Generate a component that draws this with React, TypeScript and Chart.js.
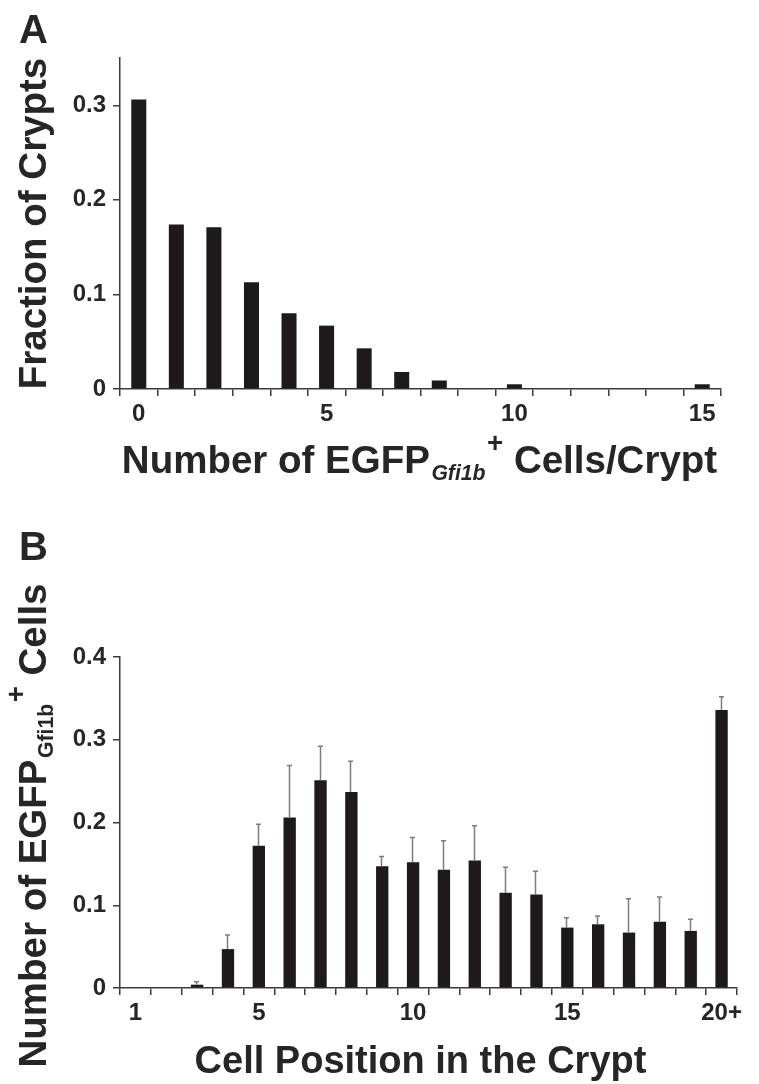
import React, { useEffect, useRef } from 'react';
import { Chart, registerables } from 'chart.js';

Chart.register(...registerables);

// ---------- Panel A data ----------
const categoriesA = ['0', '1', '2', '3', '4', '5', '6', '7', '8', '9', '10', '11', '12', '13', '14', '15'];
const fractionA = [0.306, 0.174, 0.171, 0.113, 0.08, 0.067, 0.043, 0.018, 0.009, 0, 0.005, 0, 0, 0, 0, 0.005];
const shownTicksA = ['0', '5', '10', '15'];
const yMaxA = 0.35;

// ---------- Panel B data ----------
const categoriesB = ['1', '2', '3', '4', '5', '6', '7', '8', '9', '10', '11', '12', '13', '14', '15', '16', '17', '18', '19', '20+'];
const meanB = [0, 0, 0.004, 0.047, 0.172, 0.206, 0.251, 0.237, 0.147, 0.152, 0.143, 0.154, 0.115, 0.113, 0.073, 0.077, 0.067, 0.08, 0.069, 0.336];
const errB = [0, 0, 0.0035, 0.017, 0.026, 0.063, 0.041, 0.037, 0.012, 0.03, 0.035, 0.042, 0.031, 0.028, 0.012, 0.01, 0.041, 0.03, 0.014, 0.016];
const shownTicksB = ['1', '5', '10', '15', '20+'];
const yMaxB = 0.4;

// ---------- Text ----------
type Seg = { text: string; kind: 'base' | 'sub' | 'sup'; italic?: boolean };
const xTitleA: Seg[] = [
  { text: 'Number of EGFP', kind: 'base' },
  { text: 'Gfi1b', kind: 'sub', italic: true },
  { text: '+', kind: 'sup' },
  { text: ' Cells/Crypt', kind: 'base' },
];
const yTitleA: Seg[] = [{ text: 'Fraction of Crypts', kind: 'base' }];
const xTitleB: Seg[] = [{ text: 'Cell Position in the Crypt', kind: 'base' }];
const yTitleB: Seg[] = [
  { text: 'Number of EGFP', kind: 'base' },
  { text: 'Gfi1b', kind: 'sub' },
  { text: '+', kind: 'sup' },
  { text: ' Cells', kind: 'base' },
];
const panelLetters = ['A', 'B'];

const FONT = '"Liberation Sans", Arial, Helvetica, sans-serif';
const BAR = '#1e1a1b';
const AXIS = '#3a3a3a';
const TEXT = '#262626';
const ERR = '#7d7d7d';
const TITLE_SIZE = 38.5;
const TICK_SIZE = 24;

function fontFor(seg: Seg, size: number) {
  const s = seg.kind === 'base' ? size : seg.kind === 'sub' ? size * 0.55 : size * 0.72;
  return `${seg.italic ? 'italic ' : ''}bold ${s}px ${FONT}`;
}

function drawRich(ctx: CanvasRenderingContext2D, segs: Seg[], cx: number, baseline: number, size: number) {
  ctx.textAlign = 'left';
  ctx.textBaseline = 'alphabetic';
  let total = 0;
  const widths = segs.map((seg) => {
    ctx.font = fontFor(seg, size);
    const w = ctx.measureText(seg.text).width + (seg.kind === 'sub' ? size * 0.08 : 0);
    total += w;
    return w;
  });
  let x = cx - total / 2;
  segs.forEach((seg, i) => {
    ctx.font = fontFor(seg, size);
    const dy = seg.kind === 'sub' ? size * 0.18 : seg.kind === 'sup' ? -size * 0.54 : 0;
    ctx.fillText(seg.text, x + (seg.kind === 'sub' ? size * 0.04 : 0), baseline + dy);
    x += widths[i];
  });
}

function makeOptions(opts: {
  yMax: number;
  shown: string[];
  padding: { left: number; right: number; top: number; bottom: number };
  xHeight: number;
}) {
  const tickFont = { family: FONT, size: TICK_SIZE, weight: 'bold' as const };
  return {
    responsive: false,
    animation: false as const,
    devicePixelRatio: 1,
    layout: { padding: opts.padding },
    plugins: { legend: { display: false }, tooltip: { enabled: false } },
    scales: {
      x: {
        type: 'category' as const,
        offset: true,
        grid: {
          display: true,
          offset: true,
          drawOnChartArea: false,
          drawTicks: true,
          tickLength: 7,
          color: AXIS,
          lineWidth: 1.5,
        },
        border: { display: true, color: AXIS, width: 1.5 },
        ticks: {
          autoSkip: false,
          maxRotation: 0,
          minRotation: 0,
          padding: 4,
          color: TEXT,
          font: tickFont,
          callback: function (this: any, v: any) {
            const l = this.getLabelForValue(v);
            return opts.shown.includes(l) ? l : '';
          },
        },
        afterFit: (s: any) => {
          s.height = opts.xHeight;
        },
      },
      y: {
        min: 0,
        max: opts.yMax,
        grid: {
          display: true,
          drawOnChartArea: false,
          drawTicks: true,
          tickLength: 7,
          color: AXIS,
          lineWidth: 1.5,
        },
        border: { display: true, color: AXIS, width: 1.5 },
        ticks: {
          stepSize: 0.1,
          includeBounds: false,
          padding: 7,
          color: TEXT,
          font: tickFont,
          callback: (v: any) => (Math.abs(Number(v)) < 1e-9 ? '0' : Number(v).toFixed(1)),
        },
        afterFit: (s: any) => {
          s.width = 100;
        },
      },
    },
  };
}

const decorA = {
  id: 'decorA',
  afterDraw(chart: any) {
    const { ctx, chartArea } = chart;
    ctx.save();
    ctx.fillStyle = TEXT;
    ctx.font = `bold 40px ${FONT}`;
    ctx.textAlign = 'left';
    ctx.textBaseline = 'alphabetic';
    ctx.fillText(panelLetters[0], 19, 43);
    ctx.save();
    ctx.translate(46, (chartArea.top + chartArea.bottom) / 2);
    ctx.rotate(-Math.PI / 2);
    drawRich(ctx, yTitleA, 0, 0, TITLE_SIZE);
    ctx.restore();
    drawRich(ctx, xTitleA, (chartArea.left + chartArea.right) / 2 - 1, chartArea.bottom + 84, TITLE_SIZE);
    ctx.restore();
  },
};

const decorB = {
  id: 'decorB',
  afterDatasetsDraw(chart: any) {
    const { ctx } = chart;
    const yScale = chart.scales.y;
    const meta = chart.getDatasetMeta(0);
    ctx.save();
    ctx.strokeStyle = ERR;
    ctx.lineWidth = 1.5;
    meta.data.forEach((bar: any, i: number) => {
      if (!errB[i]) return;
      const top = yScale.getPixelForValue(meanB[i] + errB[i]);
      const x = Math.round(bar.x) - 0.5;
      ctx.beginPath();
      ctx.moveTo(x, bar.y);
      ctx.lineTo(x, top);
      ctx.moveTo(x - 2.5, top);
      ctx.lineTo(x + 2.5, top);
      ctx.stroke();
    });
    ctx.restore();
  },
  afterDraw(chart: any) {
    const { ctx, chartArea } = chart;
    ctx.save();
    ctx.fillStyle = TEXT;
    ctx.font = `bold 40px ${FONT}`;
    ctx.textAlign = 'left';
    ctx.textBaseline = 'alphabetic';
    ctx.fillText(panelLetters[1], 19, 60);
    ctx.save();
    ctx.translate(46, (chartArea.top + chartArea.bottom) / 2 + 3);
    ctx.rotate(-Math.PI / 2);
    drawRich(ctx, yTitleB, 0, 0, TITLE_SIZE);
    ctx.restore();
    drawRich(ctx, xTitleB, (chartArea.left + chartArea.right) / 2 - 8, chartArea.bottom + 85, 38);
    ctx.restore();
  },
};

export default function App() {
  const refA = useRef<HTMLCanvasElement | null>(null);
  const refB = useRef<HTMLCanvasElement | null>(null);

  useEffect(() => {
    if (!refA.current || !refB.current) return;
    const chartA = new Chart(refA.current, {
      type: 'bar',
      data: {
        labels: categoriesA,
        datasets: [
          {
            data: fractionA,
            backgroundColor: BAR,
            borderWidth: 0,
            barPercentage: 0.4,
            categoryPercentage: 1,
          },
        ],
      },
      options: makeOptions({
        yMax: yMaxA,
        shown: shownTicksA,
        padding: { left: 20, right: 38, top: 58, bottom: 0 },
        xHeight: 111,
      }) as any,
      plugins: [decorA],
    });
    const chartB = new Chart(refB.current, {
      type: 'bar',
      data: {
        labels: categoriesB,
        datasets: [
          {
            data: meanB,
            backgroundColor: BAR,
            borderWidth: 0,
            barPercentage: 0.4,
            categoryPercentage: 1,
          },
        ],
      },
      options: makeOptions({
        yMax: yMaxB,
        shown: shownTicksB,
        padding: { left: 20, right: 22, top: 157, bottom: 0 },
        xHeight: 96,
      }) as any,
      plugins: [decorB],
    });
    return () => {
      chartA.destroy();
      chartB.destroy();
    };
  }, []);

  return (
    <div style={{ position: 'absolute', left: 0, top: 0, width: 759, height: 1084, background: '#fff' }}>
      <canvas ref={refA} width={759} height={500} style={{ position: 'absolute', left: 0, top: 0 }} />
      <canvas ref={refB} width={759} height={584} style={{ position: 'absolute', left: 0, top: 500 }} />
    </div>
  );
}
